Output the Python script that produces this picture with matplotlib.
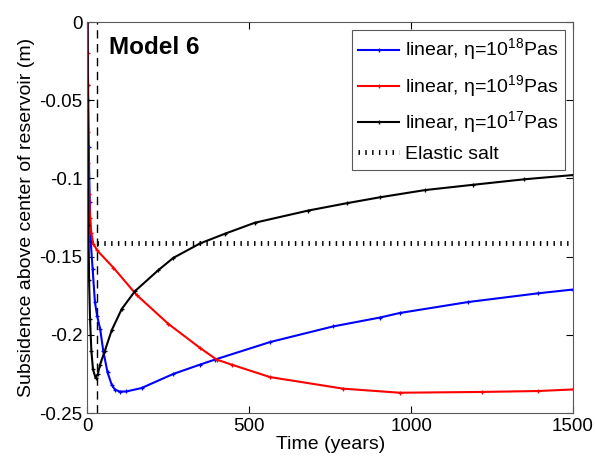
import numpy as np
import matplotlib
matplotlib.use('Agg')
from matplotlib import pyplot as plt

plt.rcParams['font.family'] = ['Liberation Sans', 'DejaVu Sans']
plt.rcParams['mathtext.fontset'] = 'custom'
plt.rcParams['mathtext.rm'] = 'Liberation Sans'

# eta = 1e18 Pas (blue)
t_18 = [0, 2, 4, 7, 10, 16, 23, 30, 39, 49, 62, 75, 85, 100, 120, 167, 265, 348, 394,
        564, 759, 904, 965, 1176, 1393, 1500]
s_18 = [0, -0.04, -0.08, -0.115, -0.14, -0.158, -0.179, -0.188, -0.196, -0.2105, -0.224,
        -0.232, -0.235, -0.2363, -0.2362, -0.234, -0.225, -0.219, -0.2158,
        -0.2046, -0.1946, -0.1889, -0.186, -0.179, -0.1734, -0.171]

# eta = 1e19 Pas (red)
t_19 = [0, 0.5, 1, 2, 3, 5, 8, 12, 18, 30, 80, 152, 250, 348, 399, 445, 564, 790,
        965, 1218, 1393, 1500]
s_19 = [0, -0.02, -0.04, -0.07, -0.09, -0.11, -0.125, -0.135, -0.1417, -0.146, -0.157,
        -0.1745, -0.193, -0.2084, -0.2158, -0.219, -0.227, -0.2344,
        -0.237, -0.2365, -0.2359, -0.2349]

# eta = 1e17 Pas (black)
t_17 = [0, 1, 2, 3, 5, 8, 12, 17, 25, 32, 39, 54, 75, 106, 147, 219, 265, 348, 425,
        517, 682, 801, 904, 1043, 1192, 1350, 1500]
s_17 = [0, -0.05, -0.1, -0.13, -0.165, -0.19, -0.21, -0.222, -0.2275, -0.225, -0.219,
        -0.21, -0.197, -0.1834, -0.172, -0.1586, -0.1508, -0.1415, -0.1353,
        -0.1283, -0.1205, -0.1158, -0.112, -0.1074, -0.104, -0.1005, -0.0978]

# elastic salt reference and vertical marker
t_elastic = [30, 1500]
s_elastic = [-0.141, -0.141]
t_vline = 28

fig = plt.figure(figsize=(5.95, 4.61), dpi=100)
ax = fig.add_axes([0.147, 0.104, 0.816, 0.848])

ax.plot(t_18, s_18, color='b', lw=1.5, marker='+', ms=3.5, mew=0.9,
        label='linear, \u03b7=10$^{18}$Pas')
ax.plot(t_19, s_19, color='r', lw=1.5, marker='+', ms=3.5, mew=0.9,
        label='linear, \u03b7=10$^{19}$Pas')
ax.plot(t_17, s_17, color='k', lw=1.5, marker='+', ms=3.5, mew=0.9,
        label='linear, \u03b7=10$^{17}$Pas')
ax.plot(t_elastic, s_elastic, color='k', lw=3.5, linestyle=(0, (0.3, 1.1)),
        label='Elastic salt')
ax.axvline(t_vline, color='k', lw=1, linestyle=(0, (6, 4)))

ax.set_xlim(0, 1500)
ax.set_ylim(-0.25, 0)
ax.set_xticks([0, 500, 1000, 1500])
ax.set_yticks([0, -0.05, -0.1, -0.15, -0.2, -0.25])
ax.set_yticklabels(['0', '-0.05', '-0.1', '-0.15', '-0.2', '-0.25'])
ax.tick_params(direction='in', top=True, right=True, labelsize=13.5, length=5)
for sp in ax.spines.values():
    sp.set_color('0.35')

ax.set_xlabel('Time (years)', fontsize=14, labelpad=1)
ax.set_ylabel('Subsidence above center of reservoir (m)', fontsize=14, labelpad=3)

ax.text(0.045, 0.965, 'Model 6', transform=ax.transAxes, fontsize=17.5,
        fontweight='bold', va='top', ha='left')

leg = ax.legend(loc='upper right', fontsize=14, handlelength=2.1, handletextpad=0.3,
                borderpad=0.35, labelspacing=0.5, fancybox=False, framealpha=1,
                borderaxespad=0.4)
leg.get_frame().set_edgecolor('0.35')
leg.get_frame().set_linewidth(0.8)

fig.savefig('out.png', dpi=100)
